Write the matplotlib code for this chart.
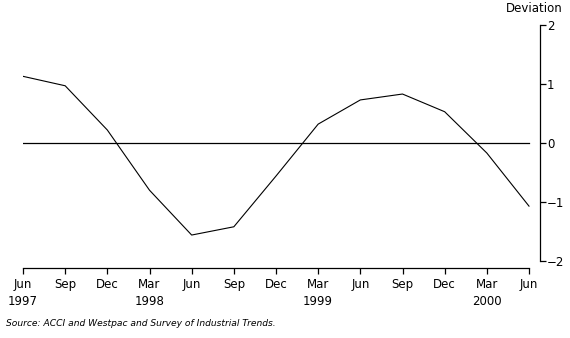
import matplotlib
matplotlib.use("Agg")
import matplotlib.pyplot as plt

# quarterly deviation series, Jun 1997 - Jun 2000
quarters = ["Jun\n1997", "Sep", "Dec", "Mar\n1998", "Jun", "Sep", "Dec",
            "Mar\n1999", "Jun", "Sep", "Dec", "Mar\n2000", "Jun"]
deviation = [1.13, 0.97, 0.22, -0.80, -1.56, -1.42, -0.56,
             0.32, 0.73, 0.83, 0.53, -0.17, -1.07]
y_ticks = [-2, -1, 0, 1, 2]
y_labels = ["\u22122", "\u22121", "0", "1", "2"]

plt.rcParams["font.family"] = ["DejaVu Sans"]

fig = plt.figure(figsize=(5.7, 3.38), dpi=100)
ax = fig.add_axes([23 / 570, 77 / 338, (540 - 23) / 570, (261 - 25) / 338])

x = list(range(len(deviation)))
ax.plot(x, deviation, color="black", linewidth=0.8)
ax.plot([x[0], x[-1]], [0, 0], color="black", linewidth=0.9)

ax.set_xlim(0, (540 - 23) / ((529 - 23) / 12))
ax.set_ylim(-2, 2)

ax.spines["left"].set_visible(False)
ax.spines["top"].set_visible(False)
ax.spines["bottom"].set_bounds(0, 12)
ax.spines["bottom"].set_position(("outward", 5))
ax.spines["bottom"].set_linewidth(0.9)
ax.spines["right"].set_linewidth(0.9)

ax.yaxis.tick_right()
ax.set_yticks(y_ticks)
ax.set_yticklabels(y_labels)
ax.set_xticks(x)
ax.set_xticklabels(quarters, linespacing=1.45)
ax.tick_params(axis="both", length=4, width=0.9, labelsize=8.5)
ax.tick_params(axis="x", pad=3)
ax.tick_params(axis="y", pad=1)

fig.text(534 / 570, 1 - 8 / 338, "Deviation", fontsize=8.5, ha="center", va="center")
fig.text(6 / 570, 1 - 324 / 338, "Source: ACCI and Westpac and Survey of Industrial Trends.",
         fontsize=6.6, style="italic", ha="left", va="center")

fig.savefig("out.png", dpi=100)
